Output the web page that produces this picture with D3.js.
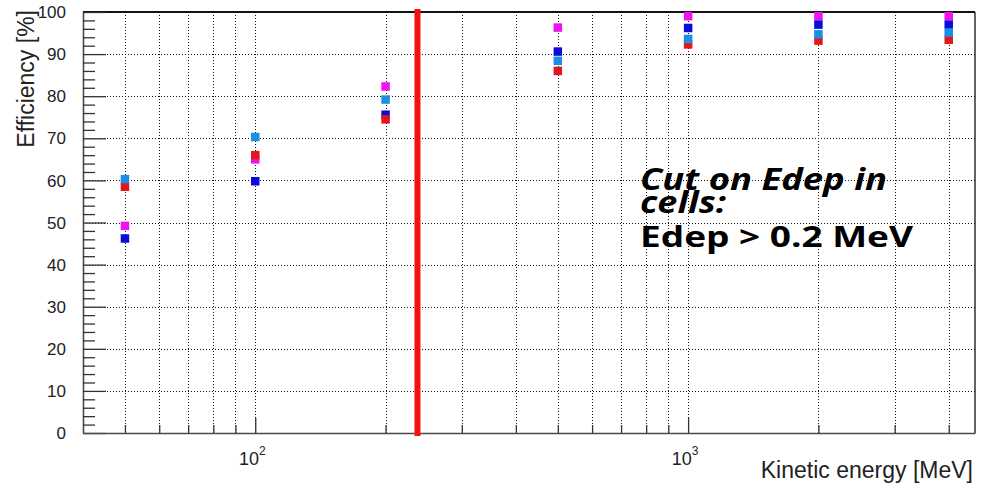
<!DOCTYPE html>
<html><head><meta charset="utf-8">
<script src="https://cdn.jsdelivr.net/npm/d3@7"></script>
<style>body{margin:0;background:#fff}svg{display:block}</style>
</head><body>
<svg id="chart" width="988" height="487"></svg>
<script>
// ---- data ----
const energies = [50, 100, 200, 500, 1000, 2000, 4000];
const magentaValues   = [49.2, 65.0, 82.3, 96.3, 99.0, 99.0, 99.0];
const blueValues      = [46.2, 59.8, 75.6, 90.6, 96.2, 97.0, 97.0];
const redValues       = [58.5, 66.0, 74.5, 86.0, 92.3, 93.2, 93.4];
const lightBlueValues = [60.3, 70.3, 79.2, 88.4, 93.6, 94.7, 95.1];
const yTickLabels = [0,10,20,30,40,50,60,70,80,90,100];
const xGridTicks = [50,60,70,80,90,100,200,300,400,500,600,700,800,900,1000,2000,3000,4000];
const xMajorLabels = [{v:100, base:"10", exp:"2"}, {v:1000, base:"10", exp:"3"}];
const cutEnergy = 237;

const series = [
  {name:"magenta", color:"#ee14ee", values: magentaValues},
  {name:"blue", color:"#0c0cd8", values: blueValues},
  {name:"red", color:"#e3161b", values: redValues},
  {name:"lightblue", color:"#1a90e4", values: lightBlueValues}
];

const svg = d3.select("#chart");
svg.append("rect").attr("width",988).attr("height",487).attr("fill","#fff");
const L=83, R=975, T=12, B=433;
const x = d3.scaleLog().domain([40, 4600]).range([L, R]);
const y = d3.scaleLinear().domain([0, 100]).range([B, T]);

// grid
const grid = svg.append("g").attr("stroke","#111").attr("stroke-width",1).attr("stroke-dasharray","1,2");
grid.selectAll(".gv").data(xGridTicks).join("line")
  .attr("x1",d=>Math.round(x(d))+0.5).attr("x2",d=>Math.round(x(d))+0.5).attr("y1",T).attr("y2",B);
grid.selectAll(".gh").data(yTickLabels.filter(d=>d>0&&d<100)).join("line")
  .attr("x1",L).attr("x2",R).attr("y1",d=>Math.round(y(d))+0.5).attr("y2",d=>Math.round(y(d))+0.5);

// frame top/right
svg.append("line").attr("x1",L).attr("x2",R).attr("y1",T).attr("y2",T).attr("stroke","#111").attr("stroke-width",1.8);
svg.append("line").attr("x1",R).attr("x2",R).attr("y1",T).attr("y2",B).attr("stroke","#111").attr("stroke-width",1.3);

// y axis
const yAxis = d3.axisRight(y).tickValues(d3.range(0,101,2)).tickSize(0).tickFormat("");
const gy = svg.append("g").attr("transform",`translate(${L},0)`).call(yAxis);
gy.select(".domain").attr("stroke","#4a4a4a").attr("stroke-width",1.6);
gy.selectAll(".tick line").attr("x2",d=>d%10===0?23:12).attr("stroke","#333").attr("stroke-width",1.3);
svg.append("g").selectAll("text").data(yTickLabels).join("text")
  .attr("x",66).attr("y",d=>y(d)).attr("dy","0.36em").attr("text-anchor","end")
  .attr("font-family","Liberation Sans, Arial, sans-serif").attr("font-size",17).attr("fill","#222")
  .text(d=>d);

// x axis
const xAxis = d3.axisTop(x).tickValues(xGridTicks).tickSize(0).tickFormat("");
const gx = svg.append("g").attr("transform",`translate(0,${B})`).call(xAxis);
gx.select(".domain").attr("stroke","#4a4a4a").attr("stroke-width",1.6);
gx.selectAll(".tick line").attr("y2",d=>(d===100||d===1000)?-15:-8).attr("stroke","#333").attr("stroke-width",1.3);
const xl = svg.append("g").attr("font-family","Liberation Sans, Arial, sans-serif").attr("fill","#222");
xMajorLabels.forEach(m=>{
  const t = xl.append("text").attr("x",x(m.v)-3).attr("y",465).attr("text-anchor","middle").attr("font-size",18);
  t.append("tspan").text(m.base);
  t.append("tspan").attr("dy",-10).attr("font-size",12).text(m.exp);
});

// axis titles
svg.append("text").attr("x",R-2).attr("y",478).attr("text-anchor","end")
  .attr("font-family","Liberation Sans, Arial, sans-serif").attr("font-size",23).attr("fill","#222")
  .text("Kinetic energy [MeV]");
svg.append("text").attr("transform","translate(34,10) rotate(-90)").attr("text-anchor","end")
  .attr("font-family","Liberation Sans, Arial, sans-serif").attr("font-size",23).attr("fill","#222")
  .text("Efficiency [%]");

// markers
const ms = 8.5;
series.forEach(s=>{
  svg.append("g").selectAll("rect").data(energies.map((e,i)=>({e, v:s.values[i]}))).join("rect")
    .attr("x",d=>x(d.e)-ms/2).attr("y",d=>y(d.v)-ms/2).attr("width",ms).attr("height",ms)
    .attr("fill",s.color);
});

// cut line overlay
svg.append("line").attr("x1",x(cutEnergy)).attr("x2",x(cutEnergy)).attr("y1",9).attr("y2",436)
  .attr("stroke","#f51010").attr("stroke-width",6);

// annotation
const ann = svg.append("g").attr("font-family","Open Sans, sans-serif").attr("font-weight","bold").attr("fill","#000");
ann.append("text").attr("x",640).attr("y",190).attr("font-style","italic").attr("font-size",30)
  .attr("textLength",247).attr("lengthAdjust","spacingAndGlyphs").text("Cut on Edep in");
ann.append("text").attr("x",640).attr("y",213).attr("font-style","italic").attr("font-size",30)
  .attr("textLength",86).attr("lengthAdjust","spacingAndGlyphs").text("cells:");
ann.append("text").attr("x",640).attr("y",247).attr("font-size",28)
  .attr("textLength",273).attr("lengthAdjust","spacingAndGlyphs").text("Edep > 0.2 MeV");
</script>
</body></html>
